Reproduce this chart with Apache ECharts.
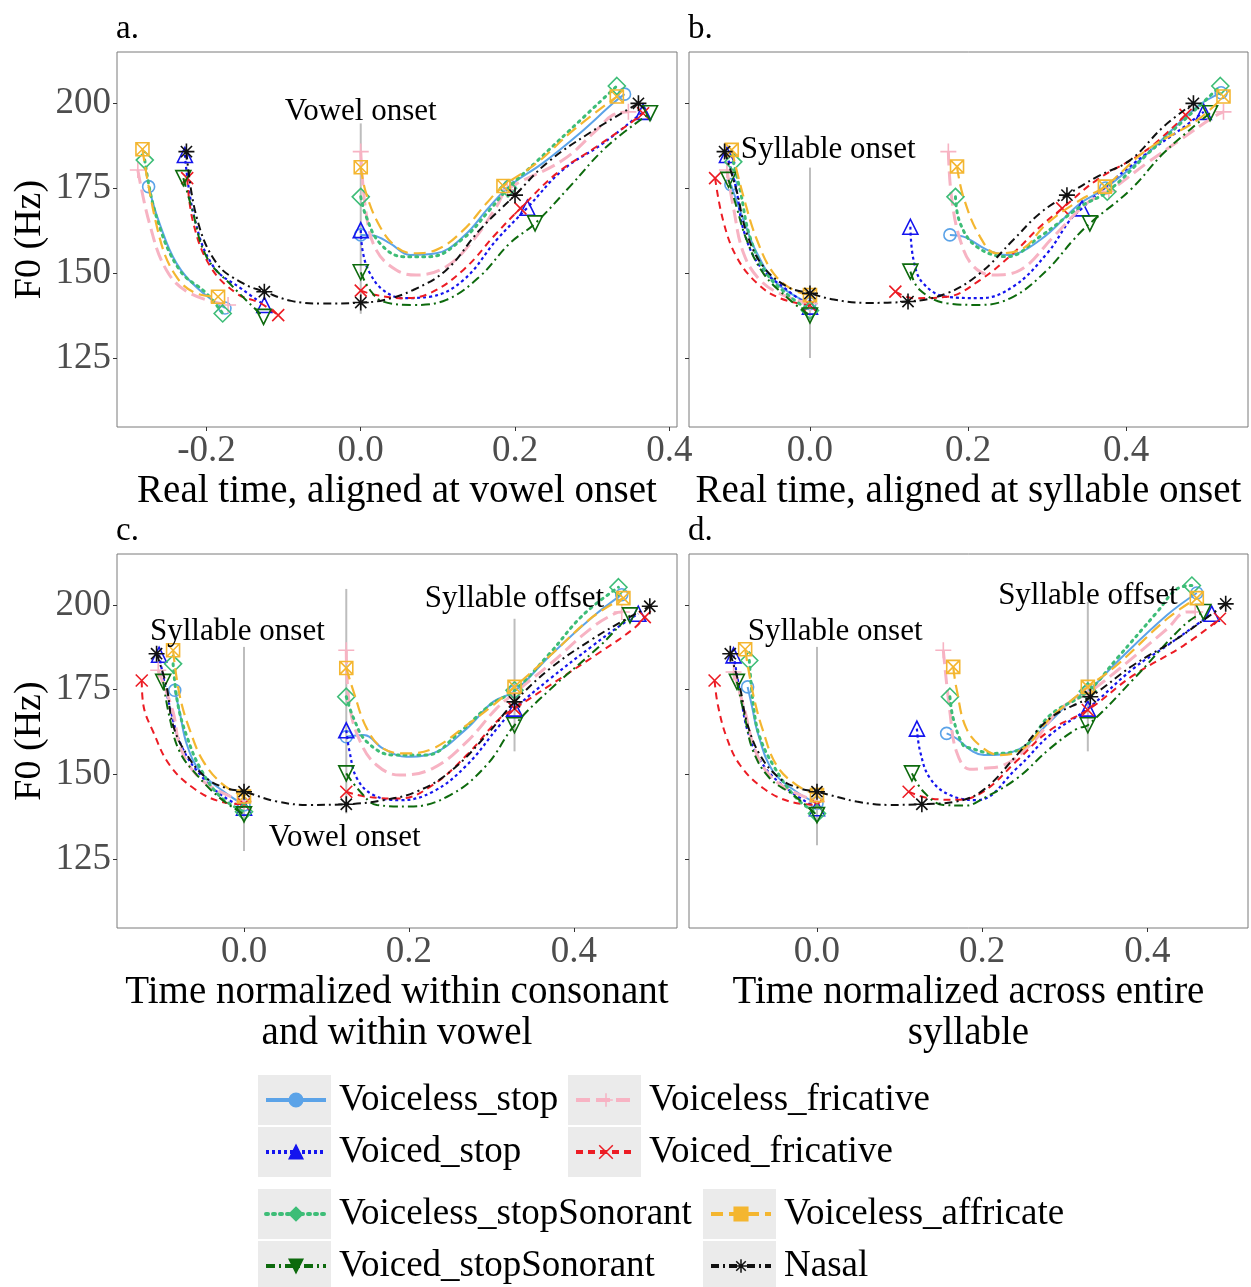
<!DOCTYPE html>
<html><head><meta charset="utf-8">
<script src="https://cdn.jsdelivr.net/npm/echarts@6/dist/echarts.min.js"></script>
<style>html,body{margin:0;padding:0;background:#fff}#chart{width:1251px;height:1287px}</style>
</head><body><div id="chart"></div>
<script>
// ---------- labels / axes ----------
var categories = ['Voiceless_stop','Voiced_stop','Voiceless_fricative','Voiced_fricative','Voiceless_stopSonorant','Voiced_stopSonorant','Voiceless_affricate','Nasal'];
var catKeys = ['vs','vd','vf','df','vss','dss','va','na'];
var panels = ['a','b','c','d'];
var panelLetters = ['a.','b.','c.','d.'];
var xTitles = ['Real time, aligned at vowel onset','Real time, aligned at syllable onset','Time normalized within consonant\nand within vowel','Time normalized across entire\nsyllable'];
var yTitle = 'F0 (Hz)';
var xTickVals = [[-0.2,0,0.2,0.4],[0,0.2,0.4],[0,0.2,0.4],[0,0.2,0.4]];
var yTickVals = [125,150,175,200];
var xMin = [-0.316,-0.153,-0.154,-0.155];
var xMax = [0.410,0.554,0.525,0.522];
var yMin = 104.7, yMax = 215;

// ---------- annotation lines [x, yTop, yBottom] and texts ----------
var a_vlines = [[0,194,138]];
var b_vlines = [[0,181,125]];
var c_vlines = [[0,187.6,127.4],[0.124,204.7,138.5],[0.328,195.9,156.8]];
var d_vlines = [[0,187.6,129.1],[0.328,200.9,156.8]];
var a_notes = [[0,197.4,'Vowel onset']];
var b_notes = [[0.023,186.2,'Syllable onset']];
var c_notes = [[-0.008,192.1,'Syllable onset'],[0.122,131.2,'Vowel onset'],[0.328,201.8,'Syllable offset']];
var d_notes = [[0.022,192.1,'Syllable onset'],[0.328,202.6,'Syllable offset']];

// ---------- panel a ----------
var a_vs_C = [[-0.275,175.4],[-0.261,164.7],[-0.239,152.9],[-0.209,145],[-0.176,139.7]];
var a_vs_V = [[0,161.2],[0.016,161],[0.038,158.7],[0.064,155.3],[0.098,155.8],[0.133,160.7],[0.167,169.5],[0.193,175.6]];
var a_vs_E = [[0.193,175.6],[0.236,182.3],[0.284,191.1],[0.327,199.9],[0.342,202.6]];
var a_vd_C = [[-0.228,184.7],[-0.216,166.6],[-0.191,151.9],[-0.153,145.1],[-0.125,140.6]];
var a_vd_V = [[0,162.6],[0.003,155.8],[0.012,149.9],[0.029,145],[0.055,142.6],[0.089,143],[0.133,147.9],[0.176,159.7],[0.216,169.2]];
var a_vd_E = [[0.216,169.2],[0.262,180.3],[0.314,188.1],[0.366,197.4]];
var a_vf_C = [[-0.289,180.3],[-0.274,164.7],[-0.252,150.9],[-0.222,144.1],[-0.172,140.6]];
var a_vf_V = [[0,185.7],[0.007,167.6],[0.020,156.8],[0.046,150.9],[0.072,149.4],[0.111,151.9],[0.146,159.7],[0.176,169.5],[0.19,174.5]];
var a_vf_E = [[0.19,174.5],[0.262,183.2],[0.306,192.1],[0.327,196.5],[0.347,197.4]];
var a_df_C = [[-0.225,177.9],[-0.217,164.6],[-0.195,151.9],[-0.161,144],[-0.131,141.2],[-0.107,137.6]];
var a_df_V = [[0,144.8],[0.020,143.5],[0.055,142.6],[0.089,144],[0.133,150.9],[0.176,161.7],[0.207,169]];
var a_df_E = [[0.207,169],[0.254,179.3],[0.306,187.2],[0.349,194],[0.366,197]];
var a_vss_C = [[-0.280,183.2],[-0.265,166.6],[-0.235,150.9],[-0.200,144],[-0.179,138.1]];
var a_vss_V = [[0,172.4],[0.007,166.6],[0.025,158.7],[0.055,154.8],[0.089,154.8],[0.133,160.2],[0.167,168.5],[0.191,174.9]];
var a_vss_E = [[0.191,174.9],[0.228,182.8],[0.271,192],[0.332,205]];
var a_dss_C = [[-0.230,177.9],[-0.219,169],[-0.200,154.8],[-0.166,146],[-0.126,137.1]];
var a_dss_V = [[0,150.2],[0.012,145],[0.029,141.6],[0.068,140.6],[0.111,142.1],[0.154,148.9],[0.193,158.7],[0.226,164.6]];
var a_dss_E = [[0.226,164.6],[0.271,175.4],[0.319,187.2],[0.375,197]];
var a_va_C = [[-0.283,186.4],[-0.261,160.6],[-0.239,148.9],[-0.213,144],[-0.185,143]];
var a_va_V = [[0,181.1],[0.007,173.4],[0.025,163.6],[0.046,157.7],[0.068,155.8],[0.098,156.8],[0.133,162.6],[0.163,170.5],[0.185,175.6]];
var a_va_E = [[0.185,175.6],[0.228,182.3],[0.276,192.1],[0.332,201.9]];
var a_na_C = [[-0.226,185.7],[-0.213,166.6],[-0.187,152.9],[-0.153,147],[-0.125,144.5]];
var a_na_T = [[-0.125,144.5],[-0.09,141.8],[-0.05,141],[0,141.3]];
var a_na_V = [[0,141.3],[0.029,142],[0.068,145],[0.111,150.9],[0.154,162.6],[0.200,172.9]];
var a_na_E = [[0.200,172.9],[0.241,182.3],[0.296,191.1],[0.36,199.9]];

// ---------- panel b ----------
var b_vs_C = [[-0.1,176],[-0.084,165.6],[-0.067,155.8],[-0.042,147],[0,141]];
var b_vs_V = [[0.177,161.2],[0.194,160.7],[0.224,156.8],[0.249,155.3],[0.291,159.7],[0.342,170.5],[0.374,175]];
var b_vs_E = [[0.374,175],[0.426,185],[0.49,199],[0.52,203]];
var b_vd_C = [[-0.105,184.7],[-0.093,174.4],[-0.084,162.6],[-0.063,151.9],[-0.029,145],[0,140.1]];
var b_vd_V = [[0.127,163.6],[0.131,153.8],[0.143,147],[0.173,143],[0.215,142.6],[0.257,146],[0.300,155.8],[0.329,165.6],[0.344,169]];
var b_vd_E = [[0.344,169],[0.384,177.4],[0.426,185.2],[0.468,192.1],[0.498,197.4]];
var b_vf_C = [[-0.105,180.3],[-0.097,169.5],[-0.084,155.8],[-0.063,147.9],[-0.034,143.5],[0,141]];
var b_vf_V = [[0.175,185.7],[0.179,172.4],[0.190,159.7],[0.207,151.9],[0.232,149.4],[0.266,150.9],[0.308,160.7],[0.350,170.5],[0.378,174]];
var b_vf_E = [[0.378,174],[0.426,182.3],[0.468,189.1],[0.511,196],[0.523,197.4]];
var b_df_C = [[-0.120,177.9],[-0.110,165.6],[-0.093,154.8],[-0.067,147],[-0.038,142.6],[0,140.5]];
var b_df_V = [[0.108,144.5],[0.131,142.6],[0.173,143],[0.215,147.9],[0.257,155.8],[0.291,163.6],[0.319,169]];
var b_df_E = [[0.319,169],[0.363,177.4],[0.426,186.2],[0.475,196.5]];
var b_vss_C = [[-0.097,182.7],[-0.088,174],[-0.076,160.7],[-0.055,149.9],[-0.025,143],[0,139]];
var b_vss_V = [[0.184,172.4],[0.19,164.6],[0.211,157.7],[0.249,154.8],[0.291,160.7],[0.342,169.5],[0.376,173.9]];
var b_vss_E = [[0.376,173.9],[0.426,184.8],[0.49,198.6],[0.519,205]];
var b_dss_C = [[-0.103,177.4],[-0.093,169.5],[-0.080,159.7],[-0.059,149.9],[-0.025,142],[0,137.5]];
var b_dss_V = [[0.127,150.4],[0.139,145],[0.173,141.1],[0.215,140.6],[0.257,143],[0.300,150.9],[0.333,159.7],[0.354,164.6]];
var b_dss_E = [[0.354,164.6],[0.405,174.4],[0.447,185.2],[0.490,194],[0.506,197]];
var b_va_C = [[-0.099,186.2],[-0.084,172.4],[-0.067,159.7],[-0.046,149.9],[-0.021,145],[0,143.5]];
var b_va_V = [[0.186,181.3],[0.194,172.4],[0.215,160.7],[0.236,155.8],[0.266,156.8],[0.300,164.6],[0.342,171.5],[0.373,175.4]];
var b_va_E = [[0.373,175.4],[0.426,186.2],[0.490,195],[0.523,201.9]];
var b_na_C = [[-0.108,185.7],[-0.093,174.4],[-0.080,161.7],[-0.059,151.9],[-0.029,146],[0,144]];
var b_na_T = [[0,144],[0.03,142.2],[0.07,141.2],[0.124,141.6]];
var b_na_V = [[0.124,141.6],[0.173,144],[0.215,149.9],[0.257,159.7],[0.291,167.6],[0.325,172.9]];
var b_na_E = [[0.325,172.9],[0.363,178.3],[0.405,183.2],[0.447,193],[0.485,199.9]];

// ---------- panel c ----------
var c_vs_C = [[-0.084,174.8],[-0.078,168.4],[-0.069,158.6],[-0.053,150.8],[-0.025,145],[0,141]];
var c_vs_V = [[0.124,161.1],[0.145,161.6],[0.169,157.6],[0.197,155.2],[0.229,156.2],[0.270,163.5],[0.302,171.4],[0.328,174.5]];
var c_vs_E = [[0.328,174.5],[0.371,185],[0.423,196.5],[0.458,203]];
var c_vd_C = [[-0.103,185.3],[-0.09,170],[-0.075,158],[-0.05,149],[-0.025,143.5],[0,140.2]];
var c_vd_V = [[0.124,163],[0.128,156.7],[0.137,148.8],[0.157,143.9],[0.189,142.4],[0.229,144.9],[0.270,152.7],[0.310,164.5],[0.328,169.4]];
var c_vd_E = [[0.328,169.4],[0.371,178.2],[0.423,188],[0.456,193.9],[0.478,197.4]];
var c_vf_C = [[-0.104,180.7],[-0.086,168.4],[-0.078,158.6],[-0.061,150.8],[-0.037,145.9],[0,142]];
var c_vf_V = [[0.124,186.6],[0.128,170.4],[0.141,159.6],[0.161,152.7],[0.189,149.8],[0.229,151.8],[0.270,159.6],[0.306,169.4],[0.328,174]];
var c_vf_E = [[0.328,174],[0.371,182.5],[0.423,193.5],[0.45,197.5],[0.458,197.9]];
var c_df_C = [[-0.124,177.7],[-0.122,170.4],[-0.110,162.5],[-0.090,152.7],[-0.061,145.9],[-0.029,142],[0,141.2]];
var c_df_V = [[0.124,144.9],[0.149,143.4],[0.189,142.9],[0.229,146.9],[0.270,155.7],[0.310,166.5],[0.328,169.4]];
var c_df_E = [[0.328,169.4],[0.371,176.3],[0.432,186.1],[0.472,192.9],[0.486,196.4]];
var c_vss_C = [[-0.086,182.6],[-0.080,170.4],[-0.069,161],[-0.053,151.8],[-0.029,143.5],[0,139]];
var c_vss_V = [[0.124,172.9],[0.133,166.5],[0.149,159.6],[0.181,155.7],[0.221,155.7],[0.262,162.6],[0.298,170.4],[0.328,174.8]];
var c_vss_E = [[0.328,174.8],[0.37,185.5],[0.411,197],[0.454,205.2]];
var c_dss_C = [[-0.098,177.3],[-0.090,166.5],[-0.078,156.7],[-0.057,149.8],[-0.029,143],[0,138.2]];
var c_dss_V = [[0.124,150.3],[0.141,144.9],[0.161,141],[0.201,140.5],[0.250,143.9],[0.294,152.7],[0.328,164.5]];
var c_dss_E = [[0.328,164.5],[0.371,175],[0.432,188],[0.456,194],[0.468,196.9]];
var c_va_C = [[-0.086,186.6],[-0.078,173.3],[-0.065,162.6],[-0.049,153.7],[-0.025,146.9],[0,143.5]];
var c_va_V = [[0.124,181.4],[0.133,174.3],[0.149,163.5],[0.169,157.6],[0.197,156.2],[0.229,157.6],[0.270,164.5],[0.302,170.4],[0.328,175.8]];
var c_va_E = [[0.328,175.8],[0.371,185],[0.423,196.5],[0.46,202]];
var c_na_C = [[-0.106,185.6],[-0.094,176],[-0.086,164.5],[-0.069,155.7],[-0.045,148.8],[-0.021,145.9],[0,144.9]];
var c_na_T = [[0,144.9],[0.04,142],[0.08,141],[0.124,141.2]];
var c_na_V = [[0.124,141.2],[0.169,142.4],[0.209,144.9],[0.250,150.8],[0.294,161.6],[0.328,171.4]];
var c_na_E = [[0.328,171.4],[0.371,181.2],[0.423,190],[0.464,195.9],[0.492,199.6]];

// ---------- panel d ----------
var d_vs_C = [[-0.084,175.8],[-0.079,170.4],[-0.071,161.6],[-0.053,150.8],[-0.025,144.9],[0,141.5]];
var d_vs_V = [[0.157,162.1],[0.169,160.6],[0.189,156.7],[0.202,155.7],[0.242,157.1],[0.282,165.5],[0.311,172.4],[0.328,174.5]];
var d_vs_E = [[0.328,174.5],[0.363,183.1],[0.424,197],[0.46,203.5]];
var d_vd_C = [[-0.101,185.1],[-0.093,174],[-0.083,162],[-0.065,152.7],[-0.037,145.9],[0,140]];
var d_vd_V = [[0.121,163.5],[0.125,156.7],[0.137,148.8],[0.161,143.9],[0.194,142.4],[0.242,151.8],[0.282,161.6],[0.328,169.4]];
var d_vd_E = [[0.328,169.4],[0.383,181.2],[0.424,188],[0.464,194.9],[0.478,197.4]];
var d_vf_C = [[-0.101,180.2],[-0.087,168.4],[-0.077,158.6],[-0.061,150.8],[-0.037,145.9],[0,142]];
var d_vf_V = [[0.153,186.6],[0.161,168.4],[0.169,156.7],[0.185,151.5],[0.202,151.8],[0.226,152.7],[0.262,159.6],[0.295,169.4],[0.328,174]];
var d_vf_E = [[0.328,174],[0.363,180.5],[0.424,192.9],[0.448,197.9],[0.458,197.9]];
var d_df_C = [[-0.124,177.7],[-0.120,170.4],[-0.109,160.6],[-0.093,152.7],[-0.065,145.9],[-0.033,142],[0,141]];
var d_df_V = [[0.111,144.9],[0.137,142.9],[0.170,142.5],[0.202,145],[0.242,154],[0.282,163],[0.328,169]];
var d_df_E = [[0.328,169],[0.383,179.2],[0.444,188],[0.488,195.9]];
var d_vss_C = [[-0.082,183.6],[-0.077,170.4],[-0.070,161.6],[-0.053,152.7],[-0.025,143],[0,138.5]];
var d_vss_V = [[0.161,172.9],[0.165,166.5],[0.177,158.6],[0.185,157.8],[0.214,156.2],[0.250,158],[0.282,167.4],[0.328,174.5]];
var d_vss_E = [[0.328,174.5],[0.363,184.1],[0.412,197.9],[0.436,204.7],[0.454,205.7]];
var d_dss_C = [[-0.097,177.3],[-0.087,166.5],[-0.077,156.7],[-0.057,148.8],[-0.029,144],[0,138]];
var d_dss_V = [[0.115,150.3],[0.129,144.9],[0.153,141],[0.180,140.8],[0.202,143],[0.242,148.8],[0.282,157.6],[0.315,163.5],[0.328,164.5]];
var d_dss_E = [[0.328,164.5],[0.383,178],[0.444,193.9],[0.468,197.9]];
var d_va_C = [[-0.087,186.9],[-0.077,173.3],[-0.065,162.6],[-0.049,152.7],[-0.025,146.9],[0,143.9]];
var d_va_V = [[0.165,181.7],[0.169,175.3],[0.181,163.5],[0.202,157.6],[0.222,155.7],[0.250,157.6],[0.282,166.5],[0.311,172.4],[0.328,175.8]];
var d_va_E = [[0.328,175.8],[0.363,182.2],[0.424,195.9],[0.46,202]];
var d_na_C = [[-0.105,185.6],[-0.093,175.3],[-0.085,165.5],[-0.069,155.7],[-0.045,148.8],[-0.021,145.9],[0,144.9]];
var d_na_T = [[0,144.9],[0.048,142],[0.088,141],[0.127,141.2]];
var d_na_V = [[0.127,141.2],[0.169,142],[0.202,145.5],[0.242,155.7],[0.282,166.5],[0.331,172.9]];
var d_na_E = [[0.331,172.9],[0.383,182.2],[0.436,190],[0.476,196.9],[0.495,200.3]];

// ---------- styles ----------
var FONT = '"Liberation Serif", "Times New Roman", serif';
var STY = {
  vs:  {color:'#5ba3e8', type:'solid',    width:2,   symbol:'circle', size:12},
  vd:  {color:'#1414ee', type:[3,3],      width:2.2, symbol:'triangle', size:15},
  vf:  {color:'#f7b3c3', type:[14,6],     width:3,   symbol:'path://M5,0L5,10M0,5L10,5', size:16},
  df:  {color:'#ec1c24', type:[7,5],      width:2,   symbol:'path://M0,0L10,10M10,0L0,10', size:12},
  vss: {color:'#3dbd77', type:[2,5],      width:3,   symbol:'diamond', size:17},
  dss: {color:'#0d6a0d', type:[9,4,2,4],  width:2,   symbol:'path://M0,0L10,0L5,8.66Z', size:15},
  va:  {color:'#f4b630', type:[12,6],     width:2.2, symbol:'path://M0,0L10,0L10,10L0,10ZM0,0L10,10M10,0L0,10', size:13},
  na:  {color:'#111111', type:[8,4,2,4],  width:2,   symbol:'path://M0,5L10,5M5,0L5,10M1.5,1.5L8.5,8.5M8.5,1.5L1.5,8.5', size:16}
};

// join contiguous segments into one smoothed curve; markers at each segment's ends (not for 'T')
function buildPiece(p, k, segNames){
  var pts = [], marks = [];
  segNames.forEach(function(sn, j){
    var a = window[p + '_' + k + '_' + sn];
    if (!a) return;
    var mark = sn !== 'T';
    a.forEach(function(pt, i){
      if (pts.length && i === 0) { if (mark) marks[marks.length-1] = true; return; }
      pts.push(pt); marks.push(mark && (i === 0 || i === a.length-1));
    });
  });
  return pts.map(function(pt, i){ return marks[i] ? {value:pt} : {value:pt, symbol:'none'}; });
}

var grids = [
  {left:117, top:52,  width:560, height:375},
  {left:689, top:52,  width:559, height:375},
  {left:117, top:554, width:560, height:374},
  {left:689, top:554, width:559, height:374}
];
grids.forEach(function(g){ g.show = true; g.borderColor = '#7a7a7a'; g.borderWidth = 1; g.backgroundColor = '#fff'; });

var xAxes = [], yAxes = [], series = [];
panels.forEach(function(p, pi){
  xAxes.push({
    type:'value', gridIndex:pi, min:xMin[pi], max:xMax[pi],
    name: xTitles[pi], nameLocation:'middle', nameGap: 37,
    nameTextStyle:{fontFamily:FONT, fontSize:39, color:'#000', lineHeight:41},
    axisLine:{show:false, onZero:false}, splitLine:{show:false},
    axisTick:{show:true, length:4, lineStyle:{color:'#333'}, customValues:xTickVals[pi]},
    axisLabel:{show:true, margin:6, fontFamily:FONT, fontSize:37, color:'#4d4d4d',
      customValues:xTickVals[pi], formatter:function(v){ return Number(v).toFixed(1); }}
  });
  var left = (pi % 2 === 0);
  yAxes.push({
    type:'value', gridIndex:pi, min:yMin, max:yMax,
    name: left ? yTitle : '', nameLocation:'middle', nameGap: 68, nameRotate: 90,
    nameTextStyle:{fontFamily:FONT, fontSize:38, color:'#000'},
    axisLine:{show:false, onZero:false}, splitLine:{show:false},
    axisTick:{show:true, length:4, lineStyle:{color:'#333'}, customValues:yTickVals},
    axisLabel:{show:left, margin:6, fontFamily:FONT, fontSize:37, color:'#4d4d4d', customValues:yTickVals}
  });
  window[p + '_vlines'].forEach(function(v){
    series.push({type:'line', xAxisIndex:pi, yAxisIndex:pi, data:[[v[0],v[1]],[v[0],v[2]]],
      symbol:'none', silent:true, z:1, lineStyle:{color:'#bdbdbd', width:2}});
  });
  catKeys.forEach(function(k, ci){
    var s = STY[k];
    var pieces = (k === 'na') ? [['C','T','V','E']] : [['C'], ['V','E']];
    pieces.forEach(function(segNames){
      series.push({
        type:'line', name:categories[ci], xAxisIndex:pi, yAxisIndex:pi,
        data: buildPiece(p, k, segNames),
        smooth:0.4,
        symbol:s.symbol, symbolSize:s.size, showSymbol:true,
        lineStyle:{color:s.color, width:s.width, type:s.type, cap: k==='vss' ? 'round' : 'butt'},
        itemStyle:{color:'rgba(255,255,255,0)', borderColor:s.color, borderWidth:1.6},
        emphasis:{disabled:true}, silent:true, z:2 + ci*0.1
      });
    });
  });
  series.push({
    type:'scatter', xAxisIndex:pi, yAxisIndex:pi, silent:true, z:5,
    symbol:'circle', symbolSize:2, itemStyle:{color:'rgba(0,0,0,0)'},
    data: window[p + '_notes'].map(function(n){ return {value:[n[0],n[1]], name:n[2]}; }),
    label:{show:true, position:'inside', formatter:function(d){ return d.name; },
      fontFamily:FONT, fontSize:31, color:'#000', opacity:1}
  });
});

function legendItem(ci){
  var s = STY[catKeys[ci]];
  return {name:categories[ci], itemStyle:{color:s.color, borderColor:s.color, borderWidth:1.5}};
}
function makeLegend(idxs, left, top){
  return {
    data: idxs.map(legendItem), orient:'vertical', left:left, top:top, padding:0,
    itemWidth:60, itemHeight:17, itemGap:12, selectedMode:false,
    lineStyle:{width:4},
    textStyle:{fontFamily:FONT, fontSize:37, color:'#000', lineHeight:40, padding:[0,0,0,8]}
  };
}
var legends = [
  makeLegend([0,1], 264, 1080),
  makeLegend([2,3], 574, 1080),
  makeLegend([4,5], 264, 1194),
  makeLegend([6,7], 709, 1194)
];

var keyBoxes = [[258,1075],[258,1127],[568,1075],[568,1127],[258,1189],[258,1241],[703,1189],[703,1241]];
var graphics = keyBoxes.map(function(b){
  return {type:'rect', left:b[0], top:b[1], z:0, shape:{width:73, height: b[1] > 1230 ? 46 : 50}, style:{fill:'#ebebeb'}};
});
var letterPos = [[116,13],[688,13],[116,515],[688,515]];
panelLetters.forEach(function(t, i){
  graphics.push({type:'text', left:letterPos[i][0], top:letterPos[i][1], z:10,
    style:{text:t, font:'33px ' + FONT, fill:'#000'}});
});

var chart = echarts.init(document.getElementById('chart'), null, {renderer:'canvas'});
chart.setOption({
  animation:false,
  backgroundColor:'#fff',
  grid: grids,
  xAxis: xAxes,
  yAxis: yAxes,
  legend: legends,
  graphic: graphics,
  series: series
});
</script>
</body></html>
